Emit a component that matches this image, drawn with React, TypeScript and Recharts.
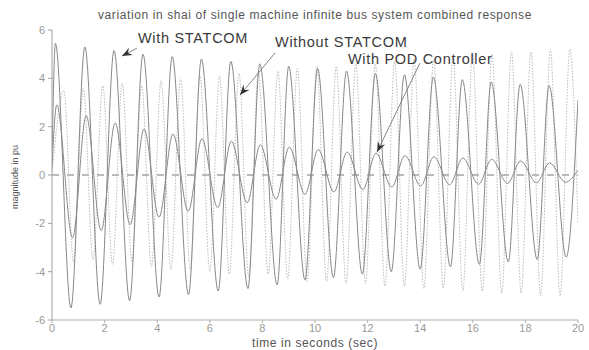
import { LineChart, Line, XAxis, YAxis, ReferenceLine } from 'recharts';

// time (s) at the start point, each crest and each trough, end point
const statcomTime = [0, 0.13, 0.72, 1.25, 1.83, 2.36, 2.95, 3.46, 4.07, 4.57, 5.19, 5.68, 6.32, 6.8, 7.45, 7.9, 8.56, 9.0, 9.62, 10.1, 10.7, 11.2, 11.8, 12.3, 12.9, 13.4, 14.0, 14.5, 15.15, 15.6, 16.25, 16.7, 17.35, 17.8, 18.45, 18.9, 19.55, 20];
const statcomValue = [0.6, 5.45, -5.5, 5.3, -5.35, 5.15, -5.2, 5.0, -5.05, 4.9, -4.95, 4.8, -4.8, 4.7, -4.7, 4.6, -4.55, 4.5, -4.35, 4.4, -4.25, 4.3, -4.1, 4.2, -4.0, 4.15, -3.9, 4.05, -3.8, 3.95, -3.7, 3.85, -3.6, 3.75, -3.5, 3.7, -3.4, 3.1];

const podTime = [0, 0.18, 0.78, 1.3, 1.87, 2.4, 2.97, 3.5, 4.07, 4.6, 5.18, 5.7, 6.3, 6.82, 7.42, 7.92, 8.52, 9.02, 9.62, 10.12, 10.72, 11.22, 11.82, 12.32, 12.92, 13.42, 14.02, 14.52, 15.12, 15.62, 16.22, 16.72, 17.32, 17.82, 18.42, 18.92, 19.52, 20];
const podValue = [0.3, 2.9, -2.6, 2.45, -2.3, 2.15, -2.05, 1.9, -1.75, 1.7, -1.5, 1.5, -1.35, 1.4, -1.15, 1.25, -1.0, 1.15, -0.8, 1.05, -0.7, 0.95, -0.6, 0.9, -0.5, 0.8, -0.45, 0.75, -0.4, 0.7, -0.38, 0.65, -0.35, 0.58, -0.32, 0.5, -0.3, 0.2];

const withoutTime = [0, 0.45, 0.82, 1.19, 1.56, 1.93, 2.3, 2.67, 3.04, 3.41, 3.78, 4.15, 4.52, 4.89, 5.26, 5.63, 6.0, 6.37, 6.74, 7.11, 7.48, 7.85, 8.22, 8.59, 8.96, 9.33, 9.7, 10.07, 10.44, 10.81, 11.18, 11.55, 11.92, 12.29, 12.66, 13.03, 13.4, 13.77, 14.14, 14.51, 14.88, 15.25, 15.62, 15.99, 16.36, 16.73, 17.1, 17.47, 17.84, 18.21, 18.58, 18.95, 19.32, 19.69, 20];
const withoutValue = [0, 3.5, -3.6, 3.6, -3.5, 3.7, -3.7, 3.8, -3.6, 3.7, -3.8, 3.9, -3.9, 4.0, -3.9, 4.1, -4.0, 4.1, -4.1, 4.2, -4.2, 4.3, -4.1, 4.3, -4.3, 4.4, -4.4, 4.5, -4.4, 4.5, -4.5, 4.6, -4.5, 4.6, -4.6, 4.7, -4.6, 4.8, -4.7, 4.8, -4.7, 4.9, -4.8, 5.0, -4.8, 5.0, -4.9, 5.1, -4.9, 5.1, -5.0, 5.2, -5.0, 5.2, -2.0];

const xTicks = [0, 2, 4, 6, 8, 10, 12, 14, 16, 18, 20];
const yTicks = [-6, -4, -2, 0, 2, 4, 6];

const toPoints = (t: number[], v: number[]) =>
  t.slice(0, Math.min(t.length, v.length)).map((time, i) => ({ time, value: v[i] }));

const statcomData = toPoints(statcomTime, statcomValue);
const podData = toPoints(podTime, podValue);
const withoutData = toPoints(withoutTime, withoutValue);

const FONT = '"Liberation Sans", Arial, sans-serif';

// annotation: thin leader line, dark arrowhead at the second point, caption near the first
function Arrow(props: any) {
  const { x1, y1, x2, y2, text, dx, dy } = props;
  const ang = Math.atan2(y2 - y1, x2 - x1);
  const len = 11;
  const wide = 0.38;
  const p1 = [x2 - len * Math.cos(ang - wide), y2 - len * Math.sin(ang - wide)];
  const p2 = [x2 - len * Math.cos(ang + wide), y2 - len * Math.sin(ang + wide)];
  const mid = [x2 - len * 0.6 * Math.cos(ang), y2 - len * 0.6 * Math.sin(ang)];
  return (
    <g>
      <line x1={x1} y1={y1} x2={x2} y2={y2} stroke="#777" strokeWidth={0.9} />
      <polygon points={`${x2},${y2} ${p1[0]},${p1[1]} ${mid[0]},${mid[1]} ${p2[0]},${p2[1]}`} fill="#333" />
      <text x={x1 + dx} y={y1 + dy} fontFamily={FONT} fontSize={14.5} fill="#3a3a3a" letterSpacing={0.7}>
        {text}
      </text>
    </g>
  );
}

export default function App() {
  return (
    <div style={{ position: 'absolute', left: 0, top: 0, width: 589, height: 350, background: '#fff', fontFamily: FONT }}>
      <div style={{ position: 'absolute', left: 0, width: 630, top: 8, textAlign: 'center', fontSize: 12, color: '#555', letterSpacing: 0.6 }}>
        variation in shai of single machine infinite bus system combined response
      </div>
      <LineChart width={589} height={350} data={statcomData} margin={{ top: 30, right: 11, bottom: 0, left: 0 }}>
        <XAxis
          dataKey="time"
          type="number"
          domain={[0, 20]}
          ticks={xTicks}
          allowDataOverflow
          height={30}
          stroke="#b0b0b0"
          tickSize={3}
          tickMargin={1}
          tick={{ fontSize: 11, fill: '#999', fontFamily: FONT }}
        />
        <XAxis xAxisId="top" orientation="top" type="number" domain={[0, 20]} height={0} tick={false} tickLine={false} stroke="#c8c8c8" strokeDasharray="2 2" />
        <YAxis
          type="number"
          domain={[-6, 6]}
          ticks={yTicks}
          allowDataOverflow
          width={52}
          stroke="#a0a0a0"
          tickSize={4}
          tickMargin={3}
          tick={{ fontSize: 11, fill: '#999', fontFamily: FONT }}
        />
        <YAxis yAxisId="right" orientation="right" domain={[-6, 6]} width={0} tick={false} tickLine={false} stroke="#ccc" />
        <ReferenceLine y={0} stroke="#777" strokeDasharray="7 8" />
        <Line data={withoutData} dataKey="value" type="monotone" stroke="#bbb" strokeWidth={1} strokeDasharray="1.5 1.5" dot={false} isAnimationActive={false} />
        <Line data={statcomData} dataKey="value" type="monotone" stroke="#888" strokeWidth={1} dot={false} isAnimationActive={false} />
        <Line data={podData} dataKey="value" type="monotone" stroke="#8a8a8a" strokeWidth={1} dot={false} isAnimationActive={false} />
        <ReferenceLine
          segment={[{ x: 3.23, y: 5.25 }, { x: 2.66, y: 4.92 }]}
          ifOverflow="visible"
          shape={(p: any) => <Arrow {...p} text="With STATCOM" dx={1} dy={-5} />}
        />
        <ReferenceLine
          segment={[{ x: 8.48, y: 5.05 }, { x: 7.15, y: 3.31 }]}
          ifOverflow="visible"
          shape={(p: any) => <Arrow {...p} text="Without STATCOM" dx={0} dy={-6} />}
        />
        <ReferenceLine
          segment={[{ x: 13.99, y: 4.63 }, { x: 12.36, y: 0.95 }]}
          ifOverflow="visible"
          shape={(p: any) => <Arrow {...p} text="With POD Controller" dx={-72} dy={1} />}
        />
      </LineChart>
      <div style={{ position: 'absolute', left: 0, width: 630, top: 337, lineHeight: '12px', textAlign: 'center', fontSize: 12, color: '#555', letterSpacing: 0.6 }}>
        time in seconds (sec)
      </div>
      <div style={{ position: 'absolute', left: 15, top: 177, transform: 'translate(-50%, -50%) rotate(-90deg)', whiteSpace: 'nowrap', fontSize: 9, color: '#555' }}>
        magnitude in pu
      </div>
    </div>
  );
}
